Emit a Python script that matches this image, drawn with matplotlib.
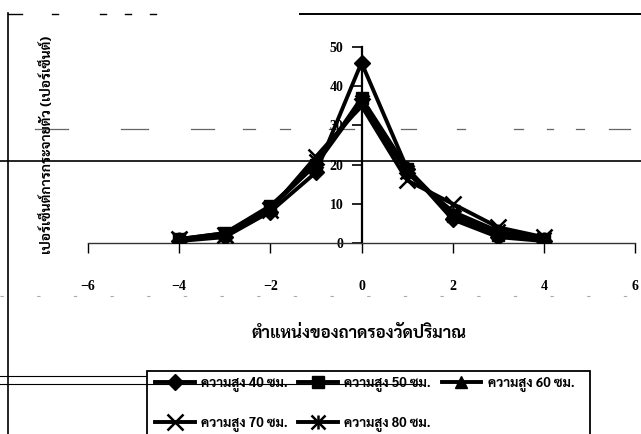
import matplotlib
matplotlib.use("Agg")
import matplotlib.pyplot as plt
from matplotlib.lines import Line2D
from matplotlib.patches import Rectangle

# Tray position relative to the centre line
positions = [-4, -3, -2, -1, 0, 1, 2, 3, 4]

# Percentage of total collected in each tray, one series per nozzle height
h40 = [0.5, 1.5, 8.0, 18.0, 46.0, 19.0, 6.0, 1.5, 0.5]
h50 = [1.0, 2.5, 9.5, 20.0, 37.0, 19.0, 7.0, 2.0, 1.0]
h60 = [1.0, 2.5, 9.0, 20.0, 36.0, 18.0, 7.5, 2.5, 1.0]
h70 = [1.0, 2.0, 8.5, 22.0, 35.0, 16.0, 10.0, 4.0, 1.5]
h80 = [1.0, 2.0, 9.0, 21.0, 36.0, 18.0, 8.0, 3.0, 1.0]

series_labels = ["ความสูง 40 ซม.", "ความสูง 50 ซม.", "ความสูง 60 ซม.",
                 "ความสูง 70 ซม.", "ความสูง 80 ซม."]
x_ticks = [-6, -4, -2, 0, 2, 4, 6]
y_ticks = [0, 10, 20, 30, 40, 50]
x_title = "ตำแหน่งของถาดรองวัดปริมาณ"
y_title = "เปอร์เซ็นต์การกระจายตัว (เปอร์เซ็นต์)"

THAI = ["Sarabun", "Noto Sans Thai", "DejaVu Sans"]
NUM = ["Liberation Serif", "DejaVu Serif"]

W, H = 641, 434
fig = plt.figure(figsize=(W / 100, H / 100), dpi=100)


def fx(px):
    return px / W


def fy(py):
    return 1 - py / H


# plot area: x from -6..6 spans px 88..635, y 0..50 spans px 243..47
ax = fig.add_axes([fx(88), fy(243), fx(635) - fx(88), fy(47) - fy(243)])
ax.set_xlim(-6, 6)
ax.set_ylim(0, 50)
ax.patch.set_visible(False)

lw = 2.8
ms = 8
ax.plot(positions, h40, color="black", lw=lw, marker="D", ms=ms, zorder=5)
ax.plot(positions, h50, color="black", lw=lw, marker="s", ms=ms, zorder=4)
ax.plot(positions, h60, color="black", lw=lw, marker="^", ms=ms + 1, zorder=4)
ax.plot(positions, h70, color="black", lw=lw, marker="x", ms=ms + 3, mew=1.8, zorder=4)
ax.plot(positions, h80, color="black", lw=lw, marker="x", ms=ms + 2, mew=1.8, zorder=4)
ax.plot(positions, h80, color="none", lw=0, marker="|", ms=ms + 2, mew=1.8,
        mec="black", zorder=4)

# axes cross at the origin
for s in ("top", "right"):
    ax.spines[s].set_visible(False)
ax.spines["left"].set_position(("data", 0))
ax.spines["bottom"].set_position(("data", 0))
ax.spines["left"].set_linewidth(1.6)
ax.spines["bottom"].set_linewidth(1.0)
ax.spines["bottom"].set_color("#333333")

ax.set_xticks(x_ticks)
ax.set_yticks(y_ticks)
ax.tick_params(axis="x", direction="out", length=7, width=1.0, pad=20,
               labelsize=10, colors="black")
ax.tick_params(axis="y", direction="out", length=7, width=1.2, pad=6,
               labelsize=10)
for lab in ax.get_xticklabels() + ax.get_yticklabels():
    lab.set_family(NUM)
    lab.set_fontweight("bold")

fig.text(fx(359), fy(333), x_title, family=THAI, fontweight="bold",
         fontsize=12, ha="center", va="center")
fig.text(fx(47), fy(145), y_title, family=THAI, fontweight="bold",
         fontsize=10, ha="center", va="center", rotation=90)

# outer chart frame
fig.add_artist(Line2D([fx(8), fx(8)], [fy(13), fy(434)], color="black", lw=1.2))
for a, b in [(8, 22), (52, 58), (100, 106), (125, 131), (150, 156), (300, 641)]:
    fig.add_artist(Line2D([fx(a), fx(b)], [fy(14), fy(14)], color="black",
                          lw=1.4 if b > 600 else 1.0))

# ruled lines of the page behind the chart
fig.add_artist(Line2D([0, 1], [fy(161), fy(161)], color="black", lw=1.2, zorder=0))
for a, b in [(35, 68), (121, 148), (191, 214), (243, 255), (280, 290),
             (329, 354), (401, 416), (457, 465), (514, 523), (547, 553),
             (576, 584), (609, 630)]:
    fig.add_artist(Line2D([fx(a), fx(b)], [fy(129), fy(129)], color="#666666",
                          lw=0.9, zorder=0))
fig.add_artist(Line2D([0, 1], [fy(296), fy(296)], color="#aaaaaa",
                      lw=0.8, ls=(0, (3, 30)), zorder=0))
fig.add_artist(Line2D([0, fx(147)], [fy(376), fy(376)], color="black", lw=0.8, zorder=0))
fig.add_artist(Line2D([0, fx(420)], [fy(384), fy(384)], color="black", lw=0.8, zorder=7))

# legend: row-major order of entries in a 3-column layout
handles = [
    Line2D([], [], color="black", lw=lw, marker="D", ms=ms),
    Line2D([], [], color="black", lw=lw, marker="s", ms=ms),
    Line2D([], [], color="black", lw=lw, marker="^", ms=ms + 1),
    Line2D([], [], color="black", lw=lw, marker="x", ms=ms + 3, mew=1.8),
    (Line2D([], [], color="black", lw=lw, marker="x", ms=ms + 2, mew=1.8),
     Line2D([], [], color="none", lw=0, marker="|", ms=ms + 2, mew=1.8, mec="black")),
]
order = [0, 3, 1, 4, 2]
fig.add_artist(Rectangle((fx(147), fy(440)), fx(590) - fx(147), fy(371) - fy(440),
                         transform=fig.transFigure, facecolor="white",
                         edgecolor="black", lw=1.3, zorder=4))
leg = fig.legend([handles[i] for i in order], [series_labels[i] for i in order],
                 loc="upper left", bbox_to_anchor=(fx(149), fy(371)),
                 ncol=3, frameon=False,
                 prop={"family": THAI, "weight": "bold", "size": 9.5},
                 handlelength=3.0, handletextpad=0.5, columnspacing=0.8,
                 labelspacing=1.9, borderpad=0.45, borderaxespad=0)
leg.set_zorder(5)

fig.savefig("out.png", dpi=100)
